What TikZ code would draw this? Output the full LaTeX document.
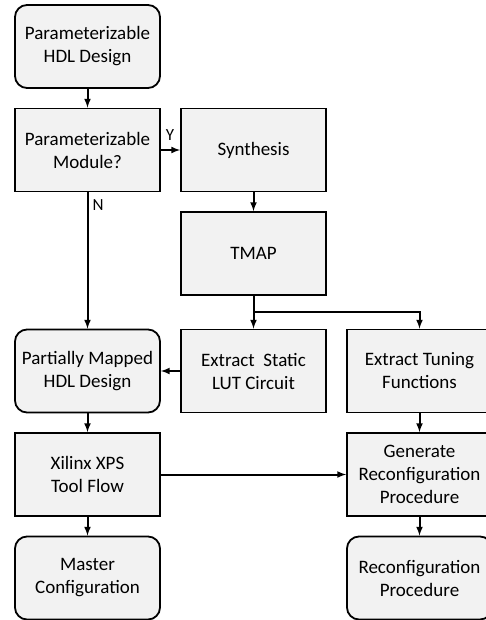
\documentclass[tikz,border=0pt]{standalone}
\usepackage{fontspec}
\setmainfont{Carlito}
\usepackage{xcolor}
\definecolor{boxgray}{HTML}{F2F2F2}

\begin{document}
\begin{tikzpicture}[x=1pt,y=-1pt,
		stepbox/.style={
			draw=black,
			fill=boxgray,
			line width=1.8pt,
			minimum width=145pt,
			minimum height=83pt,
			align=center,
			font=\fontsize{19}{23}\selectfont,
		},
		termbox/.style={stepbox, rounded corners=12pt},
		flow/.style={line width=2pt, -latex},
		lbl/.style={font=\fontsize{17}{20}\selectfont, inner sep=0pt},
	]
		\useasboundingbox (0,0) rectangle (485,620);
		\def\colL{87.5}; \def\colM{253.5}; \def\colR{419.5};
		
		% left column
		\node[termbox] (hdl) at (\colL,46.5) {Parameterizable\\HDL Design};
		\node[stepbox] (pmod) at (\colL,150) {Parameterizable\\Module?};
		\node[termbox] (pmap) at (\colL,371) {Partially Mapped\\HDL Design};
		\node[stepbox] (xps) at (\colL,474.5) {Xilinx XPS\\Tool Flow};
		\node[termbox] (master) at (\colL,578) {Master\\Configuration};
		
		% middle column
		\node[stepbox] (syn) at (\colM,150) {Synthesis};
		\node[stepbox] (tmap) at (\colM,253.5) {TMAP};
		\node[stepbox] (lut) at (\colM,371) {Extract\ \ Static\\LUT Circuit};
		
		% right column
		\node[stepbox] (tune) at (\colR,371) {Extract Tuning\\Functions};
		\node[stepbox] (gen) at (\colR,474.5) {Generate\\Reconfiguration\\Procedure};
		\node[termbox] (rproc) at (\colR,578) {Reconfiguration\\Procedure};
		
		\draw[flow] (hdl) -- (pmod);
		\draw[flow] (pmod) -- (syn);
		\node[lbl] (yes) at (170,135) {Y};
		\draw[flow] (pmod) -- (pmap);
		\node[lbl] (no) at (98,205) {N};
		\draw[flow] (syn) -- (tmap);
		
		\coordinate (split) at (\colM,312);
		\draw[line width=2pt] (tmap) -- (split);
		\draw[flow] (split) -- (lut);
		\draw[flow] (split) -| (tune);
		
		\draw[flow] (lut) -- (pmap);
		\draw[flow] (tune) -- (gen);
		\draw[flow] (pmap) -- (xps);
		\draw[flow] (xps) -- (gen);
		\draw[flow] (xps) -- (master);
		\draw[flow] (gen) -- (rproc);
	\end{tikzpicture}
\end{document}
